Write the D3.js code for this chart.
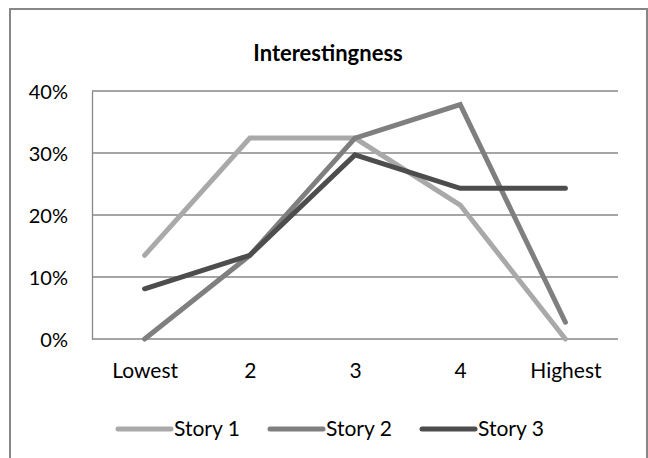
<!DOCTYPE html>
<html>
<head>
<meta charset="utf-8">
<script src="https://cdn.jsdelivr.net/npm/d3@7"></script>
<style>
  body { margin: 0; background: #fff; }
  text { font-family: Lato, "Open Sans", sans-serif; fill: #000; }
</style>
</head>
<body>
<script>
var w = 648;
var h = 458;
var margin = { top: 91, right: 30, bottom: 119, left: 92 };

var categories = ["Lowest", "2", "3", "4", "Highest"];
var seriesNames = ["Story 1", "Story 2", "Story 3"];
var story1 = [13.5, 32.4, 32.4, 21.6, 0];
var story2 = [0, 13.5, 32.4, 37.8, 2.7];
var story3 = [8.1, 13.5, 29.7, 24.3, 24.3];
var yTicks = [0, 10, 20, 30, 40];
var colors = ["#a9a9a9", "#7f7f7f", "#4d4d4d"];

var series = [story1, story2, story3];

var svg = d3.select("body")
    .append("svg")
    .attr("width", w)
    .attr("height", h);

// outer chart border
svg.append("rect")
    .attr("x", 10)
    .attr("y", 9)
    .attr("width", 637)
    .attr("height", 460)
    .attr("fill", "#fff")
    .attr("stroke", "#878787")
    .attr("stroke-width", 2);

var pw = w - margin.left - margin.right;
var ph = h - margin.top - margin.bottom;

var g = svg.append("g")
    .attr("transform", "translate(" + margin.left + "," + margin.top + ")");

var xScale = d3.scalePoint()
    .domain(categories)
    .range([0, pw])
    .padding(0.5);

var yScale = d3.scaleLinear()
    .domain([0, 40])
    .range([ph, 0]);

// gridlines
g.selectAll(".grid")
    .data(yTicks)
    .enter()
    .append("line")
    .attr("x1", 0)
    .attr("x2", pw)
    .attr("y1", function (d) { return yScale(d); })
    .attr("y2", function (d) { return yScale(d); })
    .attr("stroke", "#878787")
    .attr("stroke-width", 1.3);

// y axis
var yAxis = d3.axisLeft(yScale)
    .tickValues(yTicks)
    .tickSize(0)
    .tickPadding(24)
    .tickFormat(function (d) { return d + "%"; });

var yAxisGroup = g.append("g").call(yAxis);
yAxisGroup.select(".domain")
    .attr("stroke", "#878787")
    .attr("stroke-width", 1.3);
yAxisGroup.selectAll("text")
    .style("font-size", "20px")
    .attr("dy", "0.35em");

// x axis
var xAxis = d3.axisBottom(xScale)
    .tickSize(0)
    .tickPadding(24);

var xAxisGroup = g.append("g")
    .attr("transform", "translate(0," + ph + ")")
    .call(xAxis);
xAxisGroup.select(".domain").remove();
xAxisGroup.selectAll("text")
    .style("font-size", "21px");

// lines
var line = d3.line()
    .x(function (d, i) { return xScale(categories[i]); })
    .y(function (d) { return yScale(d); });

g.selectAll(".series")
    .data(series)
    .enter()
    .append("path")
    .attr("d", line)
    .attr("fill", "none")
    .attr("stroke", function (d, i) { return colors[i]; })
    .attr("stroke-width", 5)
    .attr("stroke-linecap", "round");

// title
svg.append("text")
    .attr("x", 328)
    .attr("y", 61)
    .attr("text-anchor", "middle")
    .style("font-size", "22px")
    .style("font-weight", "bold")
    .text("Interestingness");

// legend
var legendX = [118, 270, 422];
var legend = svg.selectAll(".legend")
    .data(seriesNames)
    .enter()
    .append("g")
    .attr("transform", function (d, i) { return "translate(" + legendX[i] + ",429)"; });

legend.append("line")
    .attr("x1", 0)
    .attr("x2", 53)
    .attr("stroke", function (d, i) { return colors[i]; })
    .attr("stroke-width", 5)
    .attr("stroke-linecap", "round");

legend.append("text")
    .attr("x", 56)
    .attr("dy", "0.35em")
    .style("font-size", "21px")
    .text(function (d) { return d; });
</script>
</body>
</html>
